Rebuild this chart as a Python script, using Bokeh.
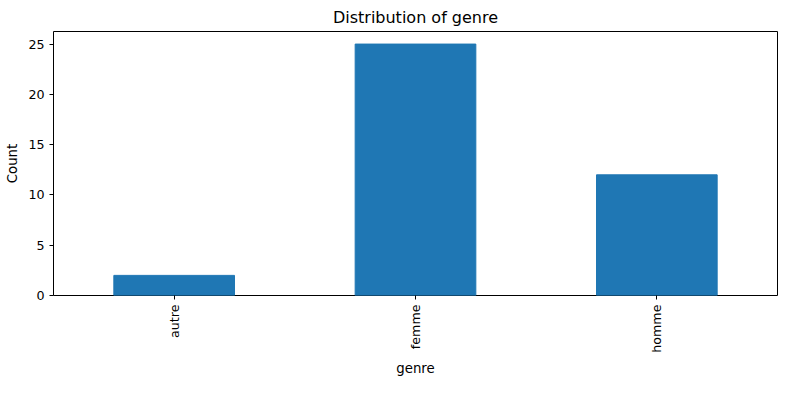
from bokeh.plotting import figure
from bokeh.models import FactorRange, Range1d
from bokeh.embed import file_html
from bokeh.resources import INLINE
import math

categories = ["autre", "femme", "homme"]
counts = [2, 25, 12]

p = figure(width=784, height=384, x_range=FactorRange(*categories, range_padding=0),
           y_range=Range1d(0, 26.25), output_backend="svg", toolbar_location=None,
           min_border_left=53, min_border_right=7, min_border_top=27, min_border_bottom=89)
p.vbar(x=categories, top=counts, width=0.5, color="#1f77b4")
p.title.text = "Distribution of genre"
p.title.align = "center"
p.title.text_font_style = "normal"
p.title.text_font_size = "12pt"
p.title.text_font = "DejaVu Sans"
p.title.text_color = "black"
p.xaxis.axis_label = "genre"
p.yaxis.axis_label = "Count"
for ax in (p.xaxis, p.yaxis):
    ax.axis_label_text_font_style = "normal"
    ax.axis_label_text_font_size = "10pt"
    ax.axis_label_text_font = "DejaVu Sans"
    ax.axis_label_text_color = "black"
    ax.major_label_text_font_size = "9.5pt"
    ax.major_label_text_font = "DejaVu Sans"
    ax.major_label_text_color = "black"
    ax.axis_line_color = None
    ax.minor_tick_line_color = None
    ax.major_tick_line_color = "black"
    ax.major_tick_in = 0
    ax.major_tick_out = 4
p.xaxis.major_label_orientation = math.pi / 2
p.yaxis.ticker = [0, 5, 10, 15, 20, 25]
p.xgrid.grid_line_color = None
p.ygrid.grid_line_color = None
p.outline_line_color = "black"
p.outline_line_alpha = 1

open("out.html", "w").write(file_html(p, INLINE))
